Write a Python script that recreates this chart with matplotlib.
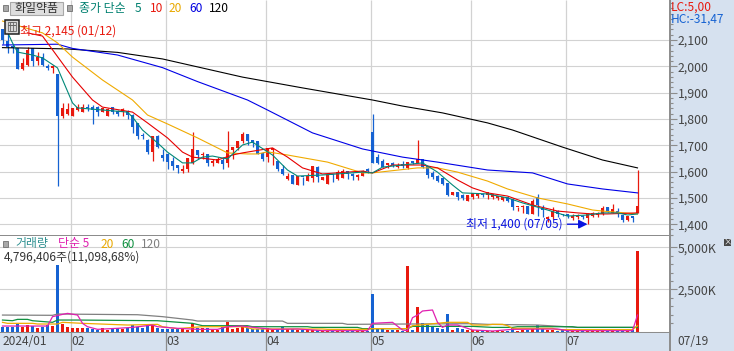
import matplotlib
matplotlib.use('Agg')
import matplotlib.pyplot as plt
from matplotlib.patches import Rectangle

plt.rcParams['font.family'] = ['Noto Sans CJK KR', 'DejaVu Sans']

# Daily candles, 2024-01-11 to 2024-07-19
opens = [2140, 2095, 2075, 2070, 1990, 2005, 2070, 2020, 2035, 2000, 1995, 1970,
         1810, 1820, 1810, 1835, 1825, 1845, 1845, 1845, 1825, 1810, 1845, 1830, 1825, 1828, 1815, 1783, 1739, 1720,
         1676, 1735, 1663, 1667, 1640, 1625, 1603, 1610, 1631, 1682, 1663, 1665, 1634, 1634, 1644, 1634, 1682, 1688, 1717,
         1743, 1720, 1714, 1669, 1657, 1682, 1640, 1610, 1570, 1587, 1549, 1581, 1565, 1577, 1616, 1568, 1553, 1591, 1570, 1574,
         1603, 1591, 1581, 1583, 1607, 1748, 1654, 1641, 1625, 1631, 1619, 1629, 1612, 1640, 1631, 1646, 1619, 1593, 1581, 1574,
         1555, 1512, 1520, 1511, 1489, 1505, 1507, 1515, 1512,
         1505, 1498, 1492, 1501, 1494, 1464, 1467, 1467, 1439, 1501, 1460, 1418, 1426, 1448, 1439, 1437, 1422, 1426, 1432,
         1422, 1432, 1434, 1439, 1464, 1444, 1450, 1435, 1416, 1429, 1444]
highs = [2140, 2145, 2085, 2070, 2030, 2075, 2070, 2055, 2050, 2010, 2005, 1970,
         1860, 1862, 1840, 1855, 1857, 1857, 1853, 1850, 1840, 1840, 1847, 1834, 1840, 1834, 1820, 1783, 1748, 1722,
         1735, 1739, 1684, 1672, 1654, 1625, 1625, 1650, 1749, 1682, 1676, 1665, 1646, 1654, 1654, 1754, 1692, 1717, 1749,
         1743, 1720, 1714, 1676, 1688, 1688, 1640, 1625, 1596, 1587, 1584, 1581, 1596, 1621, 1621, 1578, 1591, 1591, 1606, 1608,
         1603, 1593, 1591, 1606, 1614, 1819, 1667, 1646, 1631, 1638, 1631, 1640, 1638, 1640, 1720, 1648, 1621, 1603, 1587, 1577,
         1558, 1521, 1524, 1513, 1511, 1517, 1520, 1520, 1520,
         1513, 1508, 1505, 1505, 1498, 1467, 1473, 1469, 1494, 1513, 1473, 1431, 1467, 1454, 1439, 1437, 1437, 1437, 1435,
         1444, 1448, 1448, 1469, 1464, 1475, 1460, 1435, 1429, 1429, 1605]
lows = [2085, 2050, 2050, 1990, 1985, 2000, 2000, 2005, 2000, 1985, 1975, 1545,
        1805, 1815, 1810, 1830, 1825, 1830, 1780, 1810, 1825, 1810, 1820, 1810, 1810, 1800, 1748, 1724, 1724, 1667,
        1641, 1688, 1641, 1610, 1606, 1596, 1596, 1597, 1629, 1647, 1647, 1622, 1621, 1631, 1610, 1619, 1647, 1682, 1707,
        1701, 1695, 1667, 1641, 1638, 1625, 1603, 1587, 1568, 1553, 1549, 1549, 1565, 1562, 1562, 1568, 1553, 1562, 1568, 1574,
        1573, 1568, 1568, 1583, 1596, 1634, 1629, 1616, 1612, 1616, 1612, 1612, 1610, 1629, 1631, 1612, 1574, 1570, 1559, 1549,
        1507, 1512, 1492, 1492, 1489, 1497, 1500, 1505, 1494,
        1494, 1492, 1488, 1486, 1454, 1450, 1441, 1439, 1439, 1431, 1429, 1410, 1418, 1426, 1432, 1422, 1416, 1418, 1420,
        1400, 1426, 1426, 1435, 1445, 1441, 1426, 1410, 1412, 1410, 1441]
closes = [2100, 2075, 2070, 1990, 2010, 2060, 2020, 2035, 2005, 1995, 2000, 1810,
          1840, 1838, 1840, 1845, 1845, 1840, 1835, 1825, 1840, 1838, 1825, 1820, 1835, 1815, 1770, 1735, 1735, 1676,
          1733, 1692, 1650, 1638, 1621, 1615, 1610, 1650, 1684, 1663, 1665, 1634, 1638, 1646, 1627, 1682, 1692, 1717, 1743,
          1717, 1710, 1667, 1646, 1688, 1688, 1610, 1591, 1584, 1553, 1584, 1578, 1581, 1621, 1578, 1578, 1591, 1586, 1596, 1603,
          1591, 1583, 1587, 1600, 1602, 1634, 1634, 1619, 1631, 1625, 1625, 1621, 1634, 1634, 1646, 1619, 1587, 1581, 1565, 1553,
          1511, 1521, 1502, 1498, 1511, 1517, 1517, 1511, 1520,
          1513, 1505, 1502, 1489, 1464, 1467, 1469, 1439, 1489, 1473, 1454, 1426, 1448, 1439, 1435, 1431, 1431, 1431, 1426,
          1439, 1441, 1441, 1460, 1445, 1456, 1441, 1416, 1429, 1422, 1469]

# Price moving averages, read at the bar index where the line bends
ma5_i = [1, 2, 3, 6, 8, 11, 14, 15, 25, 26, 28, 31, 33, 36, 38, 40, 42, 45, 48, 50, 54, 57, 59, 64, 72, 74, 76, 80, 84, 87, 90, 92, 97, 101, 104, 109, 113, 117, 120, 123, 125, 127]
ma5_v = [2130, 2089, 2054, 2043, 2032, 1994, 1861, 1842, 1826, 1807, 1758, 1709, 1674, 1633, 1633, 1655, 1659, 1648, 1701, 1712, 1663, 1606, 1583, 1587, 1598, 1595, 1617, 1625, 1633, 1598, 1549, 1519, 1515, 1500, 1481, 1454, 1431, 1435, 1443, 1443, 1435, 1439]
ma10_i = [5, 8, 14, 18, 20, 26, 29, 33, 36, 38, 43, 46, 48, 54, 57, 60, 64, 72, 74, 78, 84, 87, 91, 94, 97, 101, 106, 111, 115, 118, 121, 127]
ma10_v = [2127, 2115, 1959, 1872, 1845, 1826, 1785, 1728, 1674, 1655, 1644, 1663, 1671, 1690, 1655, 1614, 1591, 1602, 1595, 1625, 1625, 1614, 1568, 1538, 1519, 1507, 1473, 1450, 1443, 1439, 1439, 1443]
ma20_i = [0, 8, 11, 14, 20, 26, 29, 33, 39, 45, 49, 51, 53, 57, 65, 72, 74, 83, 87, 91, 97, 101, 107, 113, 118, 120, 127]
ma20_v = [2172, 2127, 2089, 2035, 1948, 1872, 1815, 1781, 1728, 1671, 1667, 1667, 1675, 1663, 1636, 1595, 1595, 1614, 1614, 1598, 1564, 1534, 1500, 1477, 1454, 1450, 1439]
ma60_i = [0, 11, 14, 23, 32, 39, 49, 53, 62, 72, 80, 87, 97, 106, 113, 120, 127]
ma60_v = [2081, 2084, 2068, 2043, 1995, 1942, 1872, 1834, 1747, 1686, 1655, 1636, 1606, 1595, 1553, 1534, 1519]
ma120_i = [0, 13, 23, 32, 48, 60, 74, 80, 88, 97, 102, 112, 120, 127]
ma120_v = [2071, 2066, 2053, 2028, 1959, 1918, 1872, 1849, 1823, 1785, 1758, 1693, 1644, 1614]

# Volume in thousands of shares
volumes = [295, 295, 295, 435, 295, 395, 335, 200, 295, 395, 355, 3950,
           475, 295, 235, 200, 200, 200, 160, 100, 200, 120, 160, 200, 160, 200, 395, 295, 235, 435,
           435, 200, 160, 160, 160, 160, 160, 100, 495, 200, 200, 200, 120, 120, 295, 590, 160, 235, 295,
           200, 160, 160, 160, 200, 120, 160, 295, 160, 160, 100, 80, 100, 120, 100, 60, 60, 60, 60, 60,
           60, 60, 60, 60, 60, 2230, 200, 160, 100, 100, 80, 60, 3890, 100, 1480, 495, 395, 295, 200, 160,
           1045, 100, 200, 160, 100, 100, 100, 60, 60,
           60, 60, 60, 60, 200, 60, 80, 100, 160, 395, 160, 100, 100, 60, 100, 60, 60, 60, 60,
           60, 60, 60, 60, 60, 60, 60, 60, 60, 80, 4796]

vma5_i = [0, 9, 10, 12, 13, 15, 16, 17, 19, 23, 26, 30, 31, 35, 39, 43, 45, 48, 49, 54, 59, 64, 73, 74, 78, 80, 81, 82, 83, 84, 86, 87, 88, 89, 91, 94, 97, 98, 102, 111, 113, 126, 127]
vma5_v = [335, 335, 890, 1025, 1085, 985, 495, 295, 140, 200, 255, 395, 295, 200, 140, 140, 295, 335, 295, 140, 160, 60, 60, 495, 555, 100, 60, 830, 985, 1225, 1285, 555, 255, 395, 395, 100, 60, 40, 140, 160, 60, 60, 985]
vma20_i = [0, 1, 6, 7, 11, 12, 16, 25, 31, 32, 35, 38, 40, 48, 49, 50, 64, 65, 73, 74, 81, 82, 89, 93, 94, 97, 98, 100, 101, 102, 110, 111, 126, 127]
vma20_v = [555, 495, 495, 455, 455, 555, 495, 395, 435, 295, 180, 255, 295, 295, 235, 160, 160, 140, 140, 180, 180, 355, 555, 555, 395, 395, 435, 435, 355, 200, 200, 120, 120, 355]
vma60_i = [0, 2, 3, 5, 6, 10, 11, 15, 31, 38, 40, 49, 50, 61, 62, 71, 72, 81, 82, 94, 98, 102, 103, 114, 115, 127]
vma60_v = [690, 650, 730, 730, 650, 555, 690, 690, 650, 495, 355, 355, 295, 295, 255, 255, 180, 180, 315, 315, 255, 255, 295, 295, 255, 255]
vma120_i = [0, 10, 11, 27, 32, 35, 38, 39, 56, 57, 68, 69, 81, 94, 97, 107, 115, 127]
vma120_v = [985, 970, 1045, 1005, 890, 790, 690, 630, 630, 495, 495, 435, 455, 475, 435, 395, 255, 255]

# Axis labels
price_ticks = [1400, 1500, 1600, 1700, 1800, 1900, 2000, 2100]
vol_ticks = [2500, 5000]
month_starts = [14, 33, 53, 74, 94, 113]
month_labels = ['02', '03', '04', '05', '06', '07']

W, H = 734, 351
RED = '#e8190e'
BLUE = '#1562d2'
LOW_BLUE = '#0a14e0'
GRID = '#d2d2d2'
BAND = '#d6e1ef'
EDGE = '#8c8c8c'
TXT = '#444444'
FS = 8.6
BODY = 0.72


def box(left, top, right, bottom):
    return [left / W, 1 - bottom / H, (right - left) / W, (bottom - top) / H]


def ftext(x, y, s, color=TXT, size=FS, **kw):
    fig.text(x / W, 1 - y / H, s, color=color, fontsize=size, va='center', **kw)


def frect(left, top, right, bottom, zorder=10, **kw):
    fig.add_artist(Rectangle((left / W, 1 - bottom / H), (right - left) / W, (bottom - top) / H,
                             transform=fig.transFigure, zorder=zorder, **kw))


fig = plt.figure(figsize=(W / 100, H / 100), dpi=100, facecolor=BAND)
ax = fig.add_axes(box(0, 0, 669.5, 235))
ax_vol = fig.add_axes(box(0, 236, 669.5, 332))
ax_date = fig.add_axes(box(0, 332, 669.5, 351), facecolor=BAND)

xlim = (-0.5, 133.4)
bars = range(len(opens))
month_grid = [m - 0.4 for m in month_starts]

# Candles
colors = [RED if c >= o else BLUE for o, c in zip(opens, closes)]
ax.vlines(bars, lows, highs, colors=colors, linewidth=0.9, zorder=3)
ax.bar(bars, [abs(c - o) + 1 for o, c in zip(opens, closes)], bottom=[min(o, c) for o, c in zip(opens, closes)],
       width=BODY, color=colors, linewidth=0, zorder=3)

ax.plot(ma120_i, ma120_v, color='#000000', lw=0.8, zorder=4)
ax.plot(ma60_i, ma60_v, color='#0000e6', lw=0.8, zorder=4)
ax.plot(ma20_i, ma20_v, color='#f0aa00', lw=0.8, zorder=4)
ax.plot(ma10_i, ma10_v, color='#e60000', lw=0.8, zorder=4)
ax.plot(ma5_i, ma5_v, color='#008878', lw=0.8, zorder=4)

ax.set_xlim(xlim)
ax.set_ylim(1359, 2252)
ax.set_yticks(price_ticks)
ax.set_yticklabels([f'{p:,}' for p in price_ticks])
ax.set_yticks(range(1360, 2250, 20), minor=True)

# Volume
ax_vol.bar(bars, volumes, width=BODY, color=colors, linewidth=0, zorder=3)
ax_vol.plot(vma120_i, vma120_v, color='#808080', lw=0.9, zorder=4)
ax_vol.plot(vma60_i, vma60_v, color='#109040', lw=0.9, zorder=4)
ax_vol.plot(vma20_i, vma20_v, color='#f0aa00', lw=0.9, zorder=4)
ax_vol.plot(vma5_i, vma5_v, color='#e020b0', lw=0.9, zorder=4)
ax_vol.set_xlim(xlim)
ax_vol.set_ylim(-18, 5665)
ax_vol.set_yticks(vol_ticks)
ax_vol.set_yticklabels([f'{v:,}K' for v in vol_ticks])
ax_vol.set_yticks(range(500, 5500, 500), minor=True)
ax_vol.hlines(0, *xlim, color=GRID, lw=0.8, zorder=1)

for a in (ax, ax_vol):
    a.yaxis.tick_right()
    a.vlines(month_grid, *a.get_ylim(), color=GRID, lw=0.9, zorder=1)
    a.grid(axis='y', color=GRID, lw=0.8, zorder=1)
    a.set_axisbelow(True)
    a.tick_params(axis='y', which='major', length=5, width=0.8, color=EDGE, labelcolor=TXT, labelsize=FS + 0.2, pad=1)
    a.tick_params(axis='y', which='minor', length=2.5, width=0.8, color=EDGE)
    a.set_xticks([])
    for side, sp in a.spines.items():
        sp.set_visible(side == 'right')
    a.spines['right'].set_color(EDGE)
    a.spines['right'].set_linewidth(1.4)

# Date band
ax_date.set_xlim(xlim)
ax_date.set_ylim(0, 1)
ax_date.vlines(month_grid, 0, 1, color=EDGE, lw=0.9)
ax_date.set_xticks([])
ax_date.set_yticks([])
for side, sp in ax_date.spines.items():
    sp.set_visible(side == 'right')
ax_date.spines['right'].set_color(EDGE)
ax_date.spines['right'].set_linewidth(1.4)
ax_date.text(0.0, 0.5, '2024/01', color=TXT, fontsize=FS, va='center')
for m, lab in zip(month_grid, month_labels):
    ax_date.text(m + 0.25, 0.5, lab, color=TXT, fontsize=FS, va='center')
ftext(677, 341.5, '07/19')

# Panel separators
frect(0, 234.8, 669.5, 236, facecolor=EDGE, linewidth=0)
frect(0, 331.6, 669.5, 332.8, facecolor=EDGE, linewidth=0)

# High / low notes
ax.annotate('최고 2,145 (01/12)', xy=(1, 2145), xytext=(3.4, 2133), color=RED, fontsize=FS, va='center',
            arrowprops=dict(arrowstyle='-|>', color=RED, lw=0.9, shrinkA=0, shrinkB=0), zorder=6)
ax.annotate('최저 1,400 (07/05)', xy=(117, 1400), xytext=(92.8, 1400), color=LOW_BLUE, fontsize=FS, va='center',
            arrowprops=dict(arrowstyle='-|>', color=LOW_BLUE, lw=1.0, shrinkA=1, shrinkB=0, mutation_scale=13), zorder=6)

# Header, price panel
frect(10, 1.5, 63, 15, facecolor='#dedede', edgecolor='#a8a8a8', linewidth=0.8)
ftext(36.5, 8.5, '화일약품', color='#333333', ha='center', zorder=11)
for sx in (3, 67):
    frect(sx, 5, sx + 5, 11, facecolor='#a8a8a8', edgecolor='#707070', linewidth=0.6)
for x, s, c in [(79, '종가 단순', '#008070'), (135, '5', '#008070'), (150, '10', RED),
                (169, '20', '#e8a800'), (189, '60', '#0000e0'), (209, '120', '#000000')]:
    ftext(x, 8.5, s, color=c)

# Table icon
frect(5, 19.5, 18.5, 33.5, facecolor='#d8d8d8', edgecolor='#202020', linewidth=1.1, zorder=12)
frect(7.5, 22, 16, 31, facecolor='none', edgecolor='#666666', linewidth=0.6, zorder=13)
frect(10.3, 22, 13.2, 31, facecolor='none', edgecolor='#666666', linewidth=0.6, zorder=13)
frect(7.5, 25, 16, 25.5, facecolor='#666666', linewidth=0, zorder=13)

ftext(671, 7, 'LC:5,00', color=RED)
ftext(671, 19, 'HC:-31,47', color=BLUE)

# Header, volume panel
frect(3, 241, 8, 247, facecolor='#a8a8a8', edgecolor='#707070', linewidth=0.6)
for x, s, c in [(15, '거래량', '#2f9090'), (58, '단순 5', '#e020b0'), (101, '20', '#e8a800'),
                (121, '60', '#109040'), (141, '120', '#808080')]:
    ftext(x, 244, s, color=c)
ftext(4, 257, '4,796,406주(11,098,68%)', color='#333333')

# Expand icon
frect(724, 239, 731, 246, facecolor='#484848', linewidth=0)
ftext(727.5, 242.3, '×', color='white', size=6, ha='center', zorder=11)

fig.savefig('out.png', dpi=100, facecolor=fig.get_facecolor())
